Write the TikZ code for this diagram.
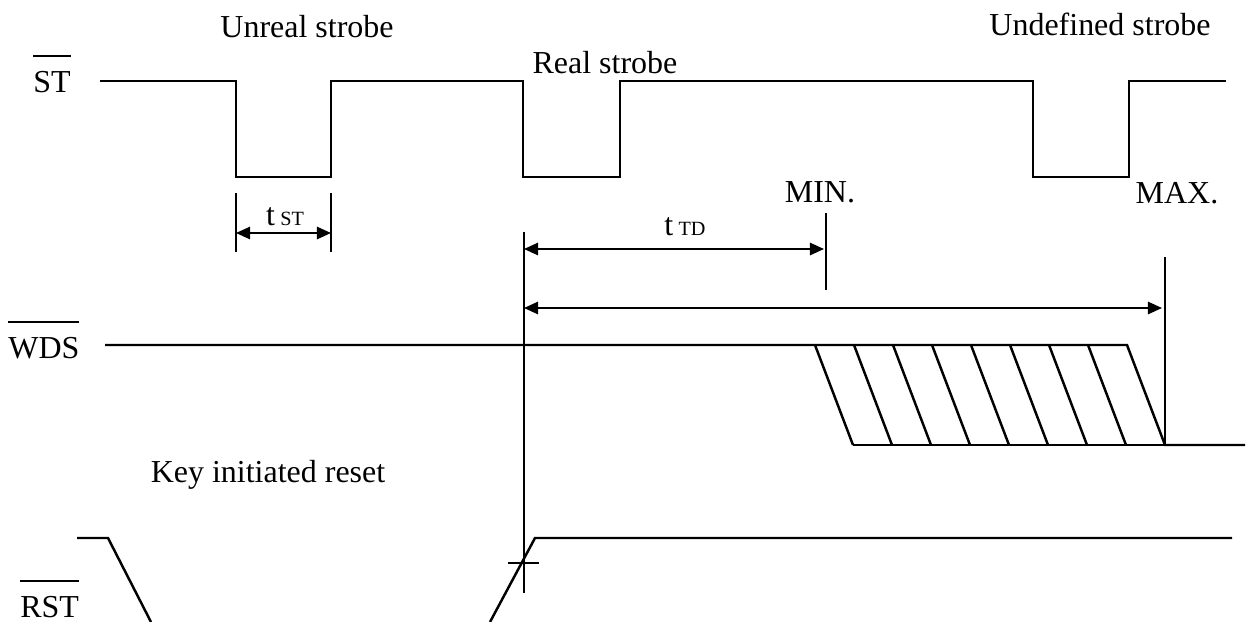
\documentclass[tikz,border=0pt]{standalone}
\usepackage{fontspec}
\setmainfont{Liberation Serif}
\usepackage{tikz}
\usetikzlibrary{arrows}
\usetikzlibrary{arrows.meta}
\usetikzlibrary{positioning}

\newcommand{\sigbar}[1]{\setbox0\hbox{#1}\rlap{\rule[0.7cm]{\wd0}{1.1pt}}\box0}
\newcommand{\sml}[1]{{\fontsize{11.5}{13}\selectfont #1}}

\tikzset{
  sig/.style={line width=1.4pt, line join=miter},
  thin line/.style={line width=0.9pt},
  dimarrow/.style={line width=1.1pt, arrows={Triangle[length=8pt,width=7pt]-Triangle[length=8pt,width=7pt]}},
  lbl/.style={anchor=base, inner sep=0pt, font=\fontsize{18.2}{22}\selectfont}
}

\begin{document}
\begin{tikzpicture}[x=0.02cm, y=-0.02cm]
\useasboundingbox (0,0) rectangle (1258,622);
% labels
\node [lbl] (unreal) at (307,37) {Unreal strobe};
\node [lbl] (real) at (605,73) {Real strobe};
\node [lbl] (undef) at (1100,35) {Undefined strobe};
\node [lbl, anchor=base west] (st) at (33,92) {\sigbar{ST}};
\node [lbl, anchor=base west] (wds) at (8,358) {\sigbar{WDS}};
\node [lbl, anchor=base west] (rst) at (20,617) {\sigbar{RST}};
\node [lbl] (key) at (268,482) {Key initiated reset};
\node [lbl] (tst) at (285,225) {t\,\sml{ST}};
\node [lbl] (ttd) at (685,235) {t\,\sml{TD}};
\node [lbl] (min) at (820,202) {MIN.};
\node [lbl] (max) at (1177,203) {MAX.};

% ST signal
\draw [sig] (100,81) -- (236,81) -- (236,177) -- (331,177) -- (331,81)
  -- (523,81) -- (523,177) -- (620,177) -- (620,81)
  -- (1033,81) -- (1033,177) -- (1129,177) -- (1129,81) -- (1226,81);

% WDS signal
\draw [sig] (105,345) -- (1127,345) -- (1165,445) -- (1245,445);
\draw [sig] (853,445) -- (1165,445);
\foreach \x in {815,854,...,1088}
  \draw [sig] (\x,345) -- ++(38,100);

% RST signal
\draw [sig] (77,538) -- (108,538) -- (151,622);
\draw [sig] (490,622) -- (535,538) -- (1232,538);

% timing marks
\coordinate (s1) at (236,193);
\coordinate (s2) at (331,193);
\draw [thin line] (s1) -- ++(0,59);
\draw [thin line] (s2) -- ++(0,59);
\draw [dimarrow] (236,233) -- (331,233);

\coordinate (td) at (524,232);
\coordinate (tmin) at (826,213);
\coordinate (tmax) at (1165,257);
\draw [thin line] (td) -- (524,593);
\draw [thin line] (tmin) -- (826,290);
\draw [sig] (tmax) -- (1165,445);
\draw [thin line] (508,563) -- (539,563);
\draw [dimarrow] (524,249) -- (824,249);
\draw [dimarrow] (524,308) -- (1162,308);
\end{tikzpicture}
\end{document}
